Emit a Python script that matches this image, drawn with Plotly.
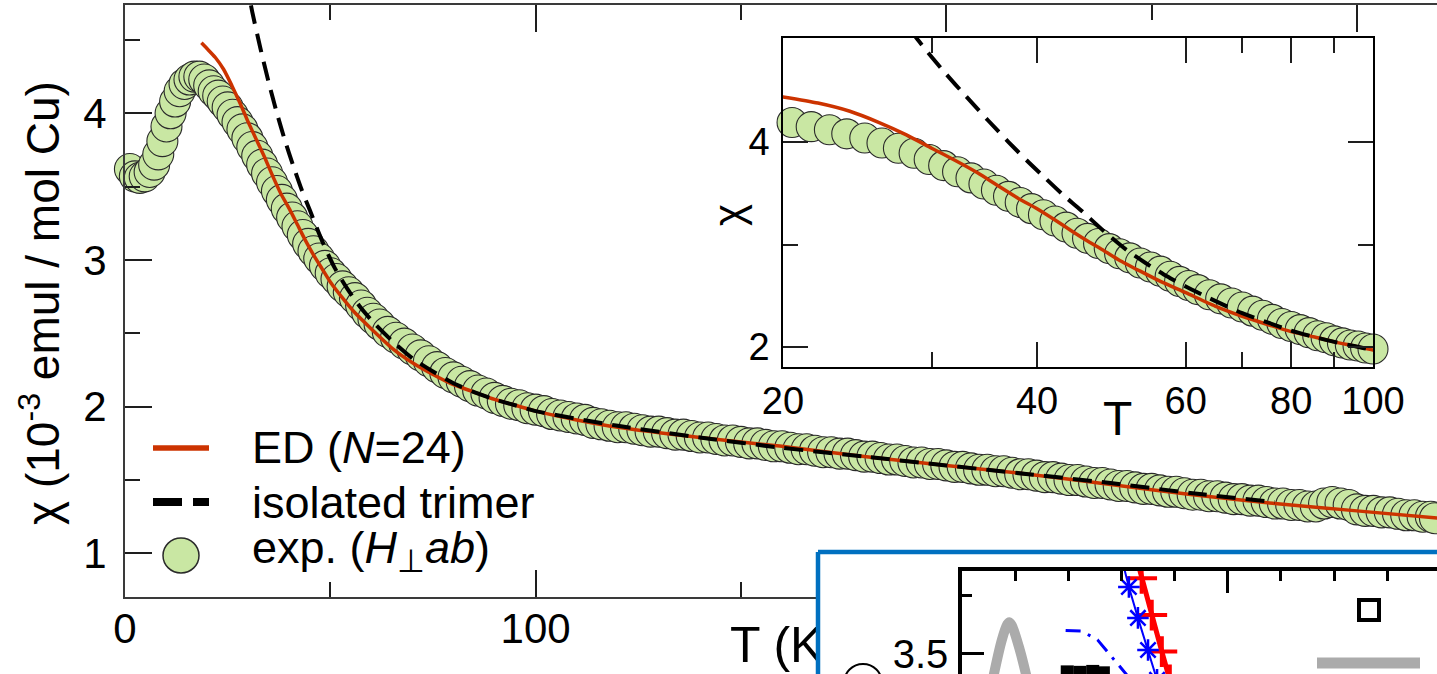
import math
import plotly.graph_objects as go

W, H = 1437, 674
FONT = "Liberation Sans, Arial, Helvetica, sans-serif"

# ---------------- data ----------------
# measured susceptibility, field perpendicular to ab (T in K, chi in 1e-3 emu / mol Cu)
T_exp = [1.2, 2.4, 3.6, 4.8, 6.0, 7.1, 8.1, 9.1, 10.1, 11.1,
         12.2, 13.3, 14.5, 15.7, 16.9, 18.1, 19.3, 20.5, 21.6, 22.7,
         23.8, 25.0, 26.2, 27.4, 28.6, 29.8, 31.0, 32.2, 33.4, 34.6,
         35.8, 37.0, 38.2, 39.4, 40.7, 42.0, 43.3, 44.6, 45.9, 47.3,
         48.7, 50.1, 51.5, 53.0, 54.5, 56.0, 57.5, 59.0, 60.5,
         62, 64, 66, 68, 70, 72, 74, 76, 78, 80,
         82, 84, 86, 88, 90, 92, 94, 96, 98, 100,
         102, 104, 106, 108, 110, 112, 114, 116, 118, 120,
         122, 124, 126, 128, 130, 132, 134, 136, 138, 140,
         142, 144, 146, 148, 150, 152, 154, 156, 158, 160,
         162, 164, 166, 168, 170, 172, 174, 176, 178, 180,
         182, 184, 186, 188, 190, 192, 194, 196, 198, 200,
         202, 204, 206, 208, 210, 212, 214, 216, 218, 220,
         222, 224, 226, 228, 230, 232, 234, 236, 238, 240,
         242, 244, 246, 248, 250, 252, 254, 256, 258, 260,
         262, 264, 266, 268, 270, 272, 274, 276, 278, 280,
         282, 284, 286, 288, 290, 292, 294, 296, 298, 300,
         302, 304, 306, 308, 310, 312, 314, 316, 318, 319]
chi_exp = [3.62, 3.57, 3.56, 3.57, 3.60, 3.65, 3.72, 3.81, 3.91, 4.00,
           4.08, 4.15, 4.20, 4.23, 4.25, 4.25, 4.23, 4.19, 4.15, 4.12,
           4.08, 4.04, 3.99, 3.94, 3.89, 3.83, 3.77, 3.71, 3.65, 3.59,
           3.53, 3.47, 3.41, 3.35, 3.29, 3.23, 3.17, 3.11, 3.06, 3.01,
           2.96, 2.91, 2.87, 2.82, 2.78, 2.74, 2.69, 2.64, 2.60,
           2.56, 2.51, 2.47, 2.43, 2.39, 2.35, 2.31, 2.27, 2.23, 2.20,
           2.17, 2.14, 2.11, 2.09, 2.06, 2.04, 2.02, 2.01, 1.99, 1.98,
           1.97, 1.95, 1.94, 1.93, 1.92, 1.91, 1.89, 1.88, 1.87, 1.86,
           1.86, 1.85, 1.84, 1.83, 1.83, 1.82, 1.81, 1.81, 1.80, 1.79,
           1.79, 1.78, 1.77, 1.77, 1.76, 1.75, 1.75, 1.74, 1.73, 1.73,
           1.72, 1.71, 1.71, 1.70, 1.69, 1.69, 1.68, 1.68, 1.67, 1.66,
           1.66, 1.65, 1.64, 1.64, 1.63, 1.62, 1.62, 1.61, 1.61, 1.60,
           1.59, 1.59, 1.58, 1.57, 1.57, 1.56, 1.56, 1.55, 1.54, 1.54,
           1.53, 1.52, 1.52, 1.51, 1.50, 1.50, 1.49, 1.48, 1.48, 1.47,
           1.46, 1.46, 1.45, 1.44, 1.44, 1.43, 1.42, 1.42, 1.41, 1.40,
           1.40, 1.39, 1.39, 1.38, 1.37, 1.37, 1.36, 1.36, 1.35, 1.34,
           1.34, 1.33, 1.33, 1.32, 1.32, 1.34, 1.35, 1.34, 1.33, 1.30,
           1.29, 1.29, 1.28, 1.28, 1.27, 1.26, 1.26, 1.25, 1.25, 1.24]

# exact diagonalization, N = 24 cluster
T_ed = [18.6, 20, 22, 24, 26, 28, 30, 32, 34, 36, 38, 40, 42, 44, 46, 48, 50,
        53, 56, 60, 65, 70, 75, 80, 85, 90, 95, 100, 110, 120, 140, 160, 180,
        200, 220, 240, 260, 280, 300, 320]
chi_ed = [4.48, 4.44, 4.38, 4.30, 4.19, 4.07, 3.94, 3.82, 3.70, 3.57, 3.45, 3.35,
          3.24, 3.13, 3.03, 2.94, 2.85, 2.74, 2.64, 2.53, 2.40, 2.30, 2.22, 2.15,
          2.10, 2.05, 2.01, 1.97, 1.91, 1.86, 1.79, 1.73, 1.66, 1.60, 1.54, 1.47,
          1.40, 1.34, 1.29, 1.24]

# isolated trimer model
T_trimer = [27, 29, 31, 33, 35, 37, 39, 41, 43, 45, 48, 51, 54, 57, 60, 65, 70,
            75, 80, 85, 90, 95, 100, 120, 140, 160, 180, 200, 220, 240, 260, 280]
chi_trimer = [5.32, 4.98, 4.69, 4.44, 4.21, 4.00, 3.81, 3.64, 3.48, 3.34, 3.13,
              2.95, 2.81, 2.69, 2.59, 2.45, 2.33, 2.24, 2.16, 2.10, 2.05, 2.01,
              1.97, 1.87, 1.79, 1.72, 1.66, 1.60, 1.54, 1.48, 1.41, 1.35]

# main-axis tick labels (the 200 / 300 labels sit under the framed panel)
x_tickvals = [0, 100, 200, 300]
x_ticktext = ["0", "100", "", ""]

# companion panel (framed in blue, lower right)
gray_x = [0.55, 0.75, 0.85, 0.89, 0.94, 1.09, 1.26]
gray_y = [3.36, 3.56, 3.625, 3.635, 3.62, 3.515, 3.36]
blue_dd_x = [1.95, 2.25, 2.55, 2.85, 3.15, 3.40]
blue_dd_y = [3.60, 3.597, 3.56, 3.48, 3.40, 3.33]
star_x = [3.01, 3.14, 3.31, 3.50, 3.67]
star_y = [3.90, 3.784, 3.653, 3.517, 3.39]
plus_x = [3.22, 3.38, 3.57, 3.76, 3.91]
plus_y = [3.96, 3.821, 3.665, 3.51, 3.39]
sq_x = [1.98, 2.22, 2.46, 2.66]
sq_y = [3.424, 3.422, 3.426, 3.42]

# ---------------- styling ----------------
RED = "#CC3300"
GREEN = "#C9E7A3"
EDGE = "#2A2A2A"
FRAME = "#3A3A3A"
TICK = "#1E1E1E"
BLUEBOX = "#0070C0"


def px(xp):
    return xp / W


def py(yp):
    return 1 - yp / H


fig = go.Figure()

# ---- main panel ----
fig.add_trace(go.Scatter(x=T_exp, y=chi_exp, mode="markers", cliponaxis=False,
                         marker=dict(size=31, color=GREEN, line=dict(color=EDGE, width=1.1)),
                         name="exp. (H⊥ab)", xaxis="x", yaxis="y"))
fig.add_trace(go.Scatter(x=T_ed, y=chi_ed, mode="lines",
                         line=dict(color=RED, width=3.5, shape="spline", smoothing=0.6),
                         name="ED (N=24)", xaxis="x", yaxis="y"))
fig.add_trace(go.Scatter(x=T_trimer, y=chi_trimer, mode="lines",
                         line=dict(color="black", width=4, dash="19px,10px", shape="spline", smoothing=0.6),
                         name="isolated trimer", xaxis="x", yaxis="y"))

# ---- log-T inset ----
T_in = [t for t in T_exp if 20 <= t <= 100]
chi_in = [c for t, c in zip(T_exp, chi_exp) if 20 <= t <= 100]
fig.add_trace(go.Scatter(x=T_in, y=chi_in, mode="markers", cliponaxis=False,
                         marker=dict(size=30, color=GREEN, line=dict(color=EDGE, width=1.1)),
                         xaxis="x2", yaxis="y3"))
fig.add_trace(go.Scatter(x=T_ed, y=chi_ed, mode="lines",
                         line=dict(color=RED, width=3.5, shape="spline", smoothing=0.6),
                         xaxis="x2", yaxis="y3"))
fig.add_trace(go.Scatter(x=T_trimer, y=chi_trimer, mode="lines",
                         line=dict(color="black", width=4, dash="19px,10px", shape="spline", smoothing=0.6),
                         xaxis="x2", yaxis="y3"))

# ---- overlay layer (pixel-like coordinates): x-axis title, then the white card above it ----
fig.add_trace(go.Scatter(x=[785], y=[649], mode="text", text=["T (K)"],
                         textfont=dict(size=50, family=FONT, color="black"),
                         hoverinfo="skip", xaxis="x3", yaxis="y4"))
fig.add_trace(go.Scatter(x=[818, 1460, 1460, 818, 818], y=[552, 552, 700, 700, 552],
                         mode="lines", fill="toself", fillcolor="white",
                         line=dict(color=BLUEBOX, width=4.5), hoverinfo="skip",
                         xaxis="x3", yaxis="y4"))

# ---- companion panel data ----
fig.add_trace(go.Scatter(x=gray_x, y=gray_y, mode="lines", line=dict(color="#ABABAB", width=10, shape="spline"),
                         xaxis="x4", yaxis="y5"))
fig.add_trace(go.Scatter(x=blue_dd_x, y=blue_dd_y, mode="lines",
                         line=dict(color="#0000FF", width=3, dash="15px,8px,3px,8px"),
                         xaxis="x4", yaxis="y5"))
fig.add_trace(go.Scatter(x=sq_x, y=sq_y, mode="markers",
                         marker=dict(symbol="square", size=13, color="black"),
                         xaxis="x4", yaxis="y5"))
fig.add_trace(go.Scatter(x=plus_x, y=plus_y, mode="lines+markers",
                         line=dict(color="#FF0000", width=5),
                         marker=dict(symbol="cross-thin-open", size=22, line=dict(color="#FF0000", width=4)),
                         xaxis="x4", yaxis="y5"))
fig.add_trace(go.Scatter(x=star_x, y=star_y, mode="lines+markers",
                         line=dict(color="#0000FF", width=2),
                         marker=dict(symbol="asterisk-open", size=18, line=dict(color="#0000FF", width=2.5)),
                         xaxis="x4", yaxis="y5"))

main_y_range = [0.703, 4.738]
tick_common = dict(showgrid=False, zeroline=False, ticks="inside", tickcolor=TICK, automargin=False)

fig.update_layout(
    width=W, height=H, margin=dict(l=0, r=0, t=0, b=0, autoexpand=False),
    paper_bgcolor="white", plot_bgcolor="rgba(0,0,0,0)", showlegend=False,
    font=dict(family=FONT, color="black"),
    xaxis=dict(domain=[px(125), 1], range=[0, 319.5], anchor="y",
               showline=True, linecolor=FRAME, linewidth=2, mirror="ticks",
               ticklen=27, tickwidth=1.5, tickvals=x_tickvals, ticktext=x_ticktext,
               tickfont=dict(size=42), ticklabelstandoff=-6,
               minor=dict(ticks="inside", dtick=50, tick0=0, ticklen=15, tickwidth=1.5, tickcolor=TICK),
               **tick_common),
    yaxis=dict(domain=[py(597), py(5)], range=main_y_range, anchor="x",
               showline=True, linecolor=FRAME, linewidth=2,
               ticklen=27, tickwidth=1.5, tickvals=[1, 2, 3, 4],
               tickfont=dict(size=42), ticklabelstandoff=8,
               minor=dict(ticks="inside", tickvals=[1.5, 2.5, 3.5, 4.5], ticklen=15, tickwidth=1.5, tickcolor=TICK),
               **tick_common),
    yaxis2=dict(overlaying="y", side="right", anchor="x", range=main_y_range,
                showline=False, showticklabels=False, ticklen=27, tickwidth=1.5,
                tickvals=[1, 2, 3, 4],
                minor=dict(ticks="inside", tickvals=[1.5, 2.5, 3.5, 4.5], ticklen=15, tickwidth=1.5, tickcolor=TICK),
                **tick_common),
    xaxis2=dict(type="log", domain=[px(783), px(1373)], range=[math.log10(20), 2], anchor="y3",
                showline=True, linecolor="black", linewidth=1.5, mirror="ticks",
                ticklen=25, tickwidth=1.5, tickvals=[20, 40, 60, 80, 100],
                ticktext=["20", "40", "60", "80", "100"],
                tickfont=dict(size=38), ticklabelstandoff=0,
                minor=dict(ticks="inside", tickvals=[30, 70, 90], ticklen=15, tickwidth=1.5, tickcolor=TICK),
                **tick_common),
    yaxis3=dict(domain=[py(367), py(38)], range=[1.805, 5.015], anchor="x2",
                showline=True, linecolor="black", linewidth=1.5, mirror="ticks",
                ticklen=25, tickwidth=1.5, tickvals=[2, 4],
                tickfont=dict(size=38), ticklabelstandoff=4,
                minor=dict(ticks="inside", tickvals=[3], ticklen=15, tickwidth=1.5, tickcolor=TICK),
                **tick_common),
    xaxis3=dict(domain=[px(700), 1], range=[700, 1437], anchor="y4", visible=False, automargin=False),
    yaxis4=dict(domain=[0, py(545)], range=[674, 545], anchor="x3", visible=False, automargin=False),
    xaxis4=dict(domain=[px(962), 1], range=[0, 8.937], anchor="y5", side="top",
                showline=True, linecolor="black", linewidth=3.5,
                ticklen=22, tickwidth=3, tickvals=[0, 5], showticklabels=False,
                minor=dict(ticks="inside", dtick=1, tick0=0, ticklen=10, tickwidth=3, tickcolor="black"),
                showgrid=False, zeroline=False, ticks="inside", tickcolor="black", automargin=False),
    yaxis5=dict(domain=[0, py(571)], range=[3.415, 3.852], anchor="x4",
                showline=True, linecolor="black", linewidth=3.5,
                ticklen=22, tickwidth=3, tickvals=[3.5], ticktext=["3.5"],
                tickfont=dict(size=40), ticklabelstandoff=2, ticklabeloverflow="allow",
                minor=dict(ticks="inside", tickvals=[3.75], ticklen=10, tickwidth=3, tickcolor="black"),
                showgrid=False, zeroline=False, ticks="inside", tickcolor="black", automargin=False),
)

# ---- axis titles ----
fig.add_annotation(x=px(40), y=py(303), xref="paper", yref="paper", showarrow=False,
                   xanchor="center", yanchor="middle",
                   text="χ (10<sup>-3</sup> emul / mol Cu)", textangle=-90,
                   font=dict(size=46, family=FONT, color="black"))
fig.add_annotation(x=px(1117), y=py(418), xref="paper", yref="paper", showarrow=False,
                   xanchor="center", yanchor="middle",
                   text="T", font=dict(size=48, family=FONT, color="black"))
fig.add_annotation(x=px(728), y=py(215), xref="paper", yref="paper", showarrow=False,
                   xanchor="center", yanchor="middle",
                   text="χ", textangle=-90, font=dict(size=42, family=FONT, color="black"))

# ---- legend for the main panel ----
legend_rows = [
    ("ED (<i>N</i>=24)", 447),
    ("isolated trimer", 502),
    ("exp. (<i>H</i><sub>⊥</sub><i>ab</i>)", 550),
]
for label, yc in legend_rows:
    fig.add_annotation(x=px(250), y=py(yc), xref="paper", yref="paper", showarrow=False,
                       xanchor="left", yanchor="middle", text=label,
                       font=dict(size=45, family=FONT, color="black"))

fig.add_shape(type="line", xref="paper", yref="paper", x0=px(153), x1=px(209), y0=py(448), y1=py(448),
              line=dict(color=RED, width=5.5), layer="above")
fig.add_shape(type="line", xref="paper", yref="paper", x0=px(153), x1=px(209), y0=py(502), y1=py(502),
              line=dict(color="black", width=8, dash="29px,11px"), layer="above")
fig.add_shape(type="circle", xref="paper", yref="paper", x0=px(163), x1=px(199), y0=py(573), y1=py(538),
              fillcolor=GREEN, line=dict(color=EDGE, width=1.5), layer="above")

# ---- companion panel: legend keys and label fragment ----
fig.add_shape(type="rect", xref="paper", yref="paper", x0=px(1359), x1=px(1379), y0=py(620), y1=py(600),
              line=dict(color="black", width=4), fillcolor="white", layer="above")
fig.add_shape(type="line", xref="paper", yref="paper", x0=px(1317), x1=px(1420), y0=py(663), y1=py(663),
              line=dict(color="#ABABAB", width=11), layer="above")
fig.add_shape(type="circle", xref="x3", yref="y4", x0=844, x1=882, y0=664, y1=702,
              line=dict(color="black", width=2), layer="above")

fig.write_html("out.html")
